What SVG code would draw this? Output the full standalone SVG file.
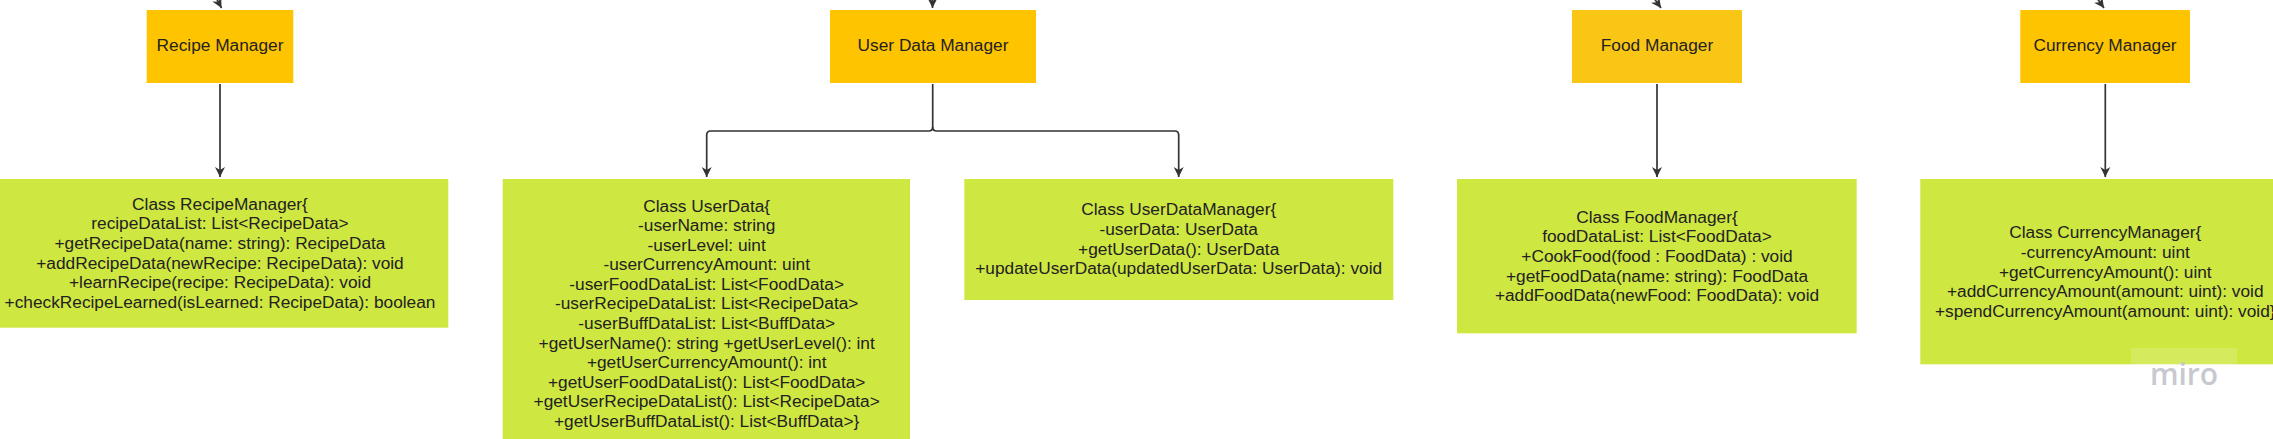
<svg xmlns="http://www.w3.org/2000/svg" width="2273" height="439" viewBox="0 0 2273 439">
<style>
.mgr{fill:#FFC400}
.mgr2{fill:#FAC616}
.cls{fill:#CFE741}
.t{font-family:"Liberation Sans",Arial,sans-serif;font-size:17.3px;fill:#222;text-anchor:middle}
.c{fill:none;stroke:#333;stroke-width:1.7}
</style>
<defs>
<marker id="ah" markerUnits="userSpaceOnUse" markerWidth="12" markerHeight="12" refX="10" refY="6" orient="auto">
<path d="M0,1 L10,6 L0,11 L3,6 z" fill="#333"/>
</marker>
</defs>
<rect width="2273" height="439" fill="#fff"/>
<g id="connectors">
<path class="c" d="M213,-8 L221.5,8" marker-end="url(#ah)"/>
<path class="c" d="M932.5,-8 L932.5,8" marker-end="url(#ah)"/>
<path class="c" d="M1651,-6 L1661,8" marker-end="url(#ah)"/>
<path class="c" d="M2094,-6 L2104,8" marker-end="url(#ah)"/>
<path class="c" d="M220,84 L220,177" marker-end="url(#ah)"/>
<path class="c" d="M932.7,84 V127 Q932.7,131 928.7,131 H710.7 Q706.7,131 706.7,135 V177" marker-end="url(#ah)"/>
<path class="c" d="M932.7,127 Q932.7,131 936.7,131 H1174.7 Q1178.7,131 1178.7,135 V177" marker-end="url(#ah)"/>
<path class="c" d="M1657,84 L1657,177" marker-end="url(#ah)"/>
<path class="c" d="M2105.3,84 L2105.3,177" marker-end="url(#ah)"/>
</g>
<g id="recipe-manager">
<rect class="mgr" x="146.7" y="10" width="146.6" height="73"/>
<text class="t" x="220" y="51">Recipe Manager</text>
</g>
<g id="user-data-manager">
<rect class="mgr" x="830" y="10" width="206" height="73"/>
<text class="t" x="933" y="51">User Data Manager</text>
</g>
<g id="food-manager">
<rect class="mgr2" x="1572" y="10" width="170" height="73"/>
<text class="t" x="1657" y="51">Food Manager</text>
</g>
<g id="currency-manager">
<rect class="mgr" x="2020.3" y="10" width="169.7" height="73"/>
<text class="t" x="2105" y="51">Currency Manager</text>
</g>
<g id="class-recipe-manager">
<rect class="cls" x="-10" y="179" width="458.3" height="148.7"/>
<text class="t" x="220" y="209.5">Class RecipeManager{</text>
<text class="t" x="220" y="229.2">recipeDataList: List&lt;RecipeData&gt;</text>
<text class="t" x="220" y="248.8">+getRecipeData(name: string): RecipeData</text>
<text class="t" x="220" y="268.5">+addRecipeData(newRecipe: RecipeData): void</text>
<text class="t" x="220" y="288.1">+learnRecipe(recipe: RecipeData): void</text>
<text class="t" x="220" y="307.8">+checkRecipeLearned(isLearned: RecipeData): boolean</text>
</g>
<g id="class-user-data">
<rect class="cls" x="502.7" y="179" width="407.3" height="270"/>
<text class="t" x="706.7" y="211.7">Class UserData{</text>
<text class="t" x="706.7" y="231.2">-userName: string</text>
<text class="t" x="706.7" y="250.8">-userLevel: uint</text>
<text class="t" x="706.7" y="270.3">-userCurrencyAmount: uint</text>
<text class="t" x="706.7" y="289.9">-userFoodDataList: List&lt;FoodData&gt;</text>
<text class="t" x="706.7" y="309.4">-userRecipeDataList: List&lt;RecipeData&gt;</text>
<text class="t" x="706.7" y="329">-userBuffDataList: List&lt;BuffData&gt;</text>
<text class="t" x="706.7" y="348.5">+getUserName(): string +getUserLevel(): int</text>
<text class="t" x="706.7" y="368.1">+getUserCurrencyAmount(): int</text>
<text class="t" x="706.7" y="387.6">+getUserFoodDataList(): List&lt;FoodData&gt;</text>
<text class="t" x="706.7" y="407.2">+getUserRecipeDataList(): List&lt;RecipeData&gt;</text>
<text class="t" x="706.7" y="426.7">+getUserBuffDataList(): List&lt;BuffData&gt;}</text>
</g>
<g id="class-user-data-manager">
<rect class="cls" x="964.3" y="179" width="429" height="121"/>
<text class="t" x="1178.7" y="215.3">Class UserDataManager{</text>
<text class="t" x="1178.7" y="235">-userData: UserData</text>
<text class="t" x="1178.7" y="254.6">+getUserData(): UserData</text>
<text class="t" x="1178.7" y="274.3">+updateUserData(updatedUserData: UserData): void</text>
</g>
<g id="class-food-manager">
<rect class="cls" x="1457" y="179" width="399.7" height="154.3"/>
<text class="t" x="1657" y="222.7">Class FoodManager{</text>
<text class="t" x="1657" y="242.3">foodDataList: List&lt;FoodData&gt;</text>
<text class="t" x="1657" y="262">+CookFood(food : FoodData) : void</text>
<text class="t" x="1657" y="281.6">+getFoodData(name: string): FoodData</text>
<text class="t" x="1657" y="301.3">+addFoodData(newFood: FoodData): void</text>
</g>
<g id="class-currency-manager">
<rect class="cls" x="1920.3" y="179" width="370" height="185.3"/>
<text class="t" x="2105.3" y="238.3">Class CurrencyManager{</text>
<text class="t" x="2105.3" y="257.9">-currencyAmount: uint</text>
<text class="t" x="2105.3" y="277.6">+getCurrencyAmount(): uint</text>
<text class="t" x="2105.3" y="297.2">+addCurrencyAmount(amount: uint): void</text>
<text class="t" x="2105.3" y="316.9">+spendCurrencyAmount(amount: uint): void}</text>
</g>
<g id="watermark">
<rect x="2131" y="348" width="106" height="40" fill="#fff" fill-opacity="0.15"/>
<text x="2184" y="385" font-family="'Open Sans',sans-serif" font-size="30" font-weight="600" fill="#c8c8d0" text-anchor="middle">miro</text>
</g>
</svg>
